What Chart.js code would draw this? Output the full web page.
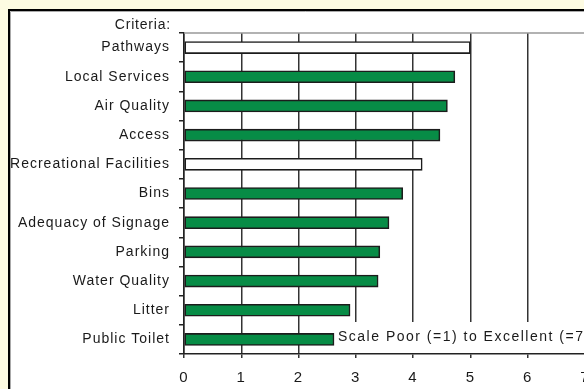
<!DOCTYPE html>
<html><head><meta charset="utf-8">
<script src="https://cdn.jsdelivr.net/npm/chart.js@4/dist/chart.umd.min.js"></script>
<style>
html,body{margin:0;padding:0;overflow:hidden;background:#fdfbe2;width:584px;height:389px;}
canvas{display:block;}
</style></head><body>
<canvas id="c" width="600" height="389"></canvas>
<script>
const categories = ['Pathways','Local Services','Air Quality','Access','Recreational Facilities','Bins','Adequacy of Signage','Parking','Water Quality','Litter','Public Toilet'];
const scores = [5.0, 4.73, 4.60, 4.47, 4.16, 3.82, 3.58, 3.42, 3.39, 2.90, 2.62];
const hollow = [true, false, false, false, true, false, false, false, false, false, false];
const xTicks = [0,1,2,3,4,5,6,7];
const yTitle = 'Criteria:';
const xTitle = 'Scale Poor (=1) to Excellent (=7)';

const FONT = 'Liberation Sans, Arial, sans-serif';
const framePlugin = {
  id: 'frame',
  beforeDraw(chart) {
    const ctx = chart.ctx;
    ctx.save();
    ctx.fillStyle = '#fdfbe2';
    ctx.fillRect(0,0,chart.width,chart.height);
    ctx.fillStyle = '#ffffff';
    ctx.fillRect(9,10,chart.width,chart.height);
    ctx.strokeStyle = '#000';
    ctx.lineWidth = 2;
    ctx.beginPath();
    ctx.moveTo(9, chart.height+5); ctx.lineTo(9,10); ctx.lineTo(chart.width+5,10);
    ctx.stroke();
    ctx.strokeStyle = '#aaa'; ctx.lineWidth = 1;
    ctx.beginPath();
    ctx.moveTo(10.5, chart.height+5); ctx.lineTo(10.5,11.5); ctx.lineTo(chart.width+5,11.5);
    ctx.stroke();
    ctx.restore();
    ctx.letterSpacing = '1px';
  },
  afterDatasetsDraw(chart) {
    const ctx = chart.ctx;
    const a = chart.chartArea;
    ctx.save();
    ctx.strokeStyle = '#999'; ctx.lineWidth = 1.5;
    ctx.beginPath(); ctx.moveTo(a.left, a.top); ctx.lineTo(chart.width, a.top); ctx.stroke();
    ctx.restore();
  },
  afterDraw(chart) {
    const ctx = chart.ctx;
    const a = chart.chartArea;
    const x = chart.scales.x;
    ctx.save();
    ctx.font = '14px ' + FONT;
    ctx.fillStyle = '#1a1a1a';
    ctx.letterSpacing = '0.8px';
    ctx.textAlign = 'left'; ctx.textBaseline = 'middle';
    const w = ctx.measureText(yTitle).width;
    ctx.fillText(yTitle, 171 - w, 25);
    const bx = x.getPixelForValue(2.64) + 1;
    ctx.fillStyle = '#fff';
    ctx.fillRect(bx, a.bottom - 32, chart.width, 31);
    ctx.fillStyle = '#1a1a1a';
    ctx.font = '14px ' + FONT;
    ctx.letterSpacing = '1.5px';
    ctx.fillText(xTitle, 338, 337);
    ctx.restore();
  }
};

new Chart(document.getElementById('c'), {
  type: 'bar',
  data: {
    labels: categories,
    datasets: [{
      data: scores,
      backgroundColor: hollow.map(h => h ? '#ffffff' : '#078c46'),
      borderColor: '#1c1c1c',
      borderWidth: 1.6,
      borderSkipped: false,
      barThickness: 12
    }]
  },
  plugins: [framePlugin],
  options: {
    indexAxis: 'y',
    responsive: false,
    animation: false,
    layout: { padding: { top: 33, right: 15, left: 0, bottom: 0 } },
    plugins: { legend: { display: false }, tooltip: { enabled: false } },
    scales: {
      x: {
        min: 0, max: 7,
        afterBuildTicks(s) { s.ticks = xTicks.map(v => ({ value: v })); },
        afterFit(s) { s.height = 35; },
        grid: { color: '#333', lineWidth: 1.5, tickLength: 4, drawTicks: true },
        border: { color: '#222', width: 1.5 },
        ticks: { font: { family: FONT, size: 15 }, color: '#1a1a1a', padding: 11, maxRotation: 0 }
      },
      y: {
        afterFit(s) { s.width = 184; },
        grid: { drawOnChartArea: false, color: '#222', lineWidth: 1.5, tickLength: 5 },
        border: { color: '#222', width: 1.5 },
        ticks: { font: { family: FONT, size: 14 }, color: '#1a1a1a', padding: 9, autoSkip: false }
      }
    }
  }
});
</script>
</body></html>
